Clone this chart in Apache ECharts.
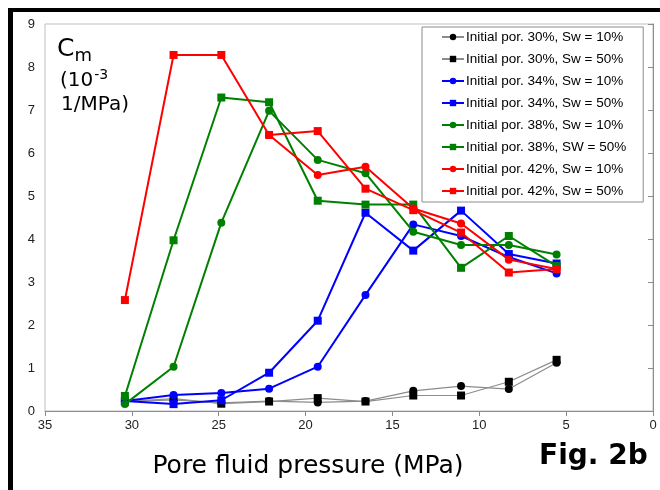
<!DOCTYPE html>
<html>
<head>
<meta charset="utf-8">
<script src="https://cdn.jsdelivr.net/npm/echarts@6/dist/echarts.min.js"></script>
<style>
  html, body { margin: 0; padding: 0; background: #fff; }
  #chart { width: 660px; height: 490px; }
</style>
</head>
<body>
<div id="chart"></div>
<script>
// Pore fluid pressure (MPa) at each measurement step
const pressure = [30.4, 27.6, 24.85, 22.1, 19.3, 16.55, 13.8, 11.05, 8.3, 5.55];

// Compressibility Cm (10^-3 1/MPa) per sample
const por30Sw10 = [0.22, 0.26, 0.19, 0.23, 0.20, 0.23, 0.47, 0.58, 0.51, 1.12];
const por30Sw50 = [0.22, 0.29, 0.17, 0.22, 0.30, 0.22, 0.36, 0.36, 0.68, 1.19];
const por34Sw10 = [0.23, 0.37, 0.42, 0.52, 1.03, 2.70, 4.34, 4.07, 3.58, 3.20];
const por34Sw50 = [0.23, 0.16, 0.25, 0.89, 2.10, 4.61, 3.73, 4.66, 3.65, 3.43];
const por38Sw10 = [0.16, 1.03, 4.38, 6.98, 5.84, 5.53, 4.17, 3.86, 3.86, 3.64];
const por38Sw50 = [0.35, 3.97, 7.29, 7.18, 4.89, 4.80, 4.80, 3.33, 4.07, 3.37];
const por42Sw10 = [null, null, null, 6.42, 5.49, 5.68, 4.71, 4.36, 3.52, 3.30];
const por42Sw50 = [2.58, 8.28, 8.28, 6.42, 6.51, 5.17, 4.67, 4.15, 3.22, 3.30];

const seriesNames = [
  'Initial por. 30%, Sw = 10%',
  'Initial por. 30%, Sw = 50%',
  'Initial por. 34%, Sw = 10%',
  'Initial por. 34%, Sw = 50%',
  'Initial por. 38%, Sw = 10%',
  'Initial por. 38%, SW = 50%',
  'Initial por. 42%, Sw = 10%',
  'Initial por. 42%, Sw = 50%'
];
const seriesValues = [por30Sw10, por30Sw50, por34Sw10, por34Sw50, por38Sw10, por38Sw50, por42Sw10, por42Sw50];
const lineColors = ['#8c8c8c', '#8c8c8c', '#0000ff', '#0000ff', '#008000', '#008000', '#ff0000', '#ff0000'];
const markColors = ['#000000', '#000000', '#0000ff', '#0000ff', '#008000', '#008000', '#ff0000', '#ff0000'];
const lineWidths = [1.2, 1.2, 2, 2, 2, 2, 2, 2];
const symbols = ['circle', 'rect', 'circle', 'rect', 'circle', 'rect', 'circle', 'rect'];

const series = seriesNames.map((name, i) => ({
  name: name,
  type: 'line',
  data: pressure.map((p, j) => [p, seriesValues[i][j]]).filter(d => d[1] !== null),
  symbol: symbols[i],
  symbolSize: 8,
  showAllSymbol: true,
  lineStyle: { color: lineColors[i], width: lineWidths[i] },
  itemStyle: { color: markColors[i] },
  emphasis: { disabled: true },
  animation: false,
  z: 2 + i
}));

const chart = echarts.init(document.getElementById('chart'), null, { renderer: 'canvas' });
chart.setOption({
  backgroundColor: '#ffffff',
  animation: false,
  grid: {
    left: 45, right: 7, top: 24, bottom: 79,
    show: true, borderColor: '#bfbfbf', borderWidth: 1, backgroundColor: 'transparent'
  },
  xAxis: {
    type: 'value',
    inverse: true,
    min: 0, max: 35, interval: 5,
    axisLine: { show: true, lineStyle: { color: '#8c8c8c', width: 1 } },
    axisTick: { show: true, length: 5, lineStyle: { color: '#8c8c8c' } },
    splitLine: { show: false },
    axisLabel: { color: '#222', fontFamily: 'Liberation Sans', fontSize: 13, margin: 8 },
    name: 'Pore fluid pressure (MPa)',
    nameLocation: 'middle',
    nameGap: 43,
    nameTextStyle: { fontFamily: 'DejaVu Sans', fontSize: 25, color: '#000', padding: [0, 82, 0, 0] }
  },
  yAxis: {
    type: 'value',
    min: 0, max: 9, interval: 1,
    axisLine: { show: true, lineStyle: { color: '#8c8c8c', width: 1 } },
    axisTick: { show: true, length: 5, lineStyle: { color: '#8c8c8c' } },
    splitLine: { show: false },
    axisLabel: { color: '#222', fontFamily: 'Liberation Sans', fontSize: 13, margin: 10 }
  },
  legend: {
    orient: 'vertical',
    left: 422, top: 27,
    z: 30,
    padding: [3, 17, 4, 19],
    backgroundColor: '#fff',
    borderColor: '#8c8c8c',
    borderWidth: 1,
    itemWidth: 22,
    itemHeight: 8,
    itemGap: 8,
    textStyle: { fontFamily: 'Liberation Sans', fontSize: 13.5, color: '#000', padding: [0, 0, 0, -3] },
    data: seriesNames,
    selectedMode: false
  },
  graphic: [
    // frame on the left and top edges
    { type: 'rect', z: 40, shape: { x: 8, y: 8, width: 5, height: 482 }, style: { fill: '#000' }, silent: true },
    { type: 'rect', z: 40, shape: { x: 8, y: 8, width: 652, height: 4 }, style: { fill: '#000' }, silent: true },
    {
      type: 'text', left: 57, top: 37, silent: true,
      style: {
        text: '{c|C}{s|m}',
        rich: {
          c: { fontFamily: 'DejaVu Sans', fontSize: 25, fill: '#000', verticalAlign: 'bottom' },
          s: { fontFamily: 'DejaVu Sans', fontSize: 18, fill: '#000', verticalAlign: 'bottom', padding: [0, 0, -3, 0] }
        }
      }
    },
    {
      type: 'text', left: 60, top: 68, silent: true,
      style: {
        text: '{a|(10}{b|-3}',
        rich: {
          a: { fontFamily: 'DejaVu Sans', fontSize: 20, fill: '#000', verticalAlign: 'bottom' },
          b: { fontFamily: 'DejaVu Sans', fontSize: 14, fill: '#000', verticalAlign: 'top', padding: [0, 0, 9, 1] }
        }
      }
    },
    {
      type: 'text', left: 61, top: 95, silent: true,
      style: { text: '1/MPa)', fontFamily: 'DejaVu Sans', fontSize: 20, fill: '#000' }
    },
    {
      type: 'text', left: 539, top: 443, silent: true,
      style: { text: 'Fig. 2b', fontFamily: 'DejaVu Sans', fontWeight: 'bold', fontSize: 28, fill: '#000' }
    }
  ],
  series: series
});
</script>
</body>
</html>
